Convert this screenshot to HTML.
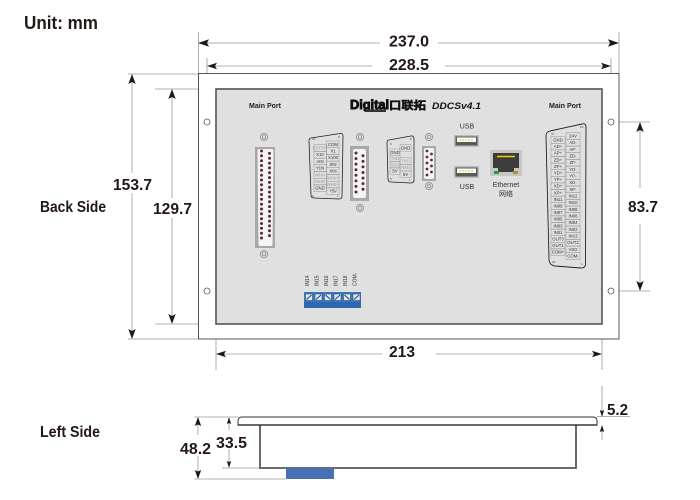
<!DOCTYPE html>
<html><head><meta charset="utf-8"><style>
html,body{margin:0;padding:0;background:#fff;}
svg{display:block;}
.d{font-family:"Liberation Sans",sans-serif;font-weight:bold;fill:#231815;}
.t{font-family:"Liberation Sans",sans-serif;font-size:4.3px;fill:#333;}
.g{fill:#999;}
</style></head><body>
<svg width="700" height="500" viewBox="0 0 700 500" xmlns="http://www.w3.org/2000/svg">
<rect width="700" height="500" fill="#fff"/>
<!-- titles -->
<text class="d" x="24" y="29" font-size="18" textLength="74" lengthAdjust="spacingAndGlyphs">Unit: mm</text>
<text class="d" x="40" y="212" font-size="16" textLength="66" lengthAdjust="spacingAndGlyphs">Back Side</text>
<text class="d" x="40" y="437" font-size="16" textLength="60" lengthAdjust="spacingAndGlyphs">Left Side</text>

<!-- extension lines -->
<g stroke="#9a9a9a" stroke-width="0.8" fill="none">
<line x1="198.5" y1="32" x2="198.5" y2="74"/>
<line x1="619" y1="32" x2="619" y2="74"/>
<line x1="207" y1="58" x2="207" y2="119"/>
<line x1="611" y1="58" x2="611" y2="119"/>
<line x1="128" y1="74" x2="199" y2="74"/>
<line x1="128" y1="339" x2="199" y2="339"/>
<line x1="155" y1="89" x2="216" y2="89"/>
<line x1="155" y1="324" x2="216" y2="324"/>
<line x1="614" y1="122" x2="650" y2="122"/>
<line x1="614" y1="291" x2="650" y2="291"/>
<line x1="216" y1="324" x2="216" y2="370"/>
<line x1="602" y1="324" x2="602" y2="370"/>
<line x1="194" y1="417" x2="238" y2="417"/>
<line x1="222" y1="468" x2="260" y2="468"/>
<line x1="194" y1="479" x2="286" y2="479"/>
<line x1="597" y1="416.5" x2="630" y2="416.5"/>
<!-- dimension lines -->
<line x1="200" y1="43" x2="380" y2="43"/><line x1="438" y1="43" x2="617" y2="43"/>
<line x1="209" y1="66" x2="372" y2="66"/><line x1="445" y1="66" x2="609" y2="66"/>
<line x1="132" y1="76" x2="132" y2="173"/><line x1="132" y1="193" x2="132" y2="337"/>
<line x1="172" y1="91" x2="172" y2="198"/><line x1="172" y1="218" x2="172" y2="322"/>
<line x1="640" y1="124" x2="640" y2="188"/><line x1="640" y1="224" x2="640" y2="289"/>
<line x1="218" y1="354" x2="382" y2="354"/><line x1="436" y1="354" x2="600" y2="354"/>
<line x1="198" y1="419" x2="198" y2="435"/><line x1="198" y1="456" x2="198" y2="477"/>
<line x1="229" y1="419" x2="229" y2="430"/><line x1="229" y1="449" x2="229" y2="466"/>
<line x1="602" y1="386" x2="602" y2="415"/><line x1="602" y1="427" x2="602" y2="440"/>
</g>
<!-- arrowheads -->
<g fill="#231815">
<polygon points="198,43 209,39.3 207,43 209,46.7"/>
<polygon points="619,43 608,39.3 610,43 608,46.7"/>
<polygon points="207,66 217,62.7 215,66 217,69.3"/>
<polygon points="611,66 601,62.7 603,66 601,69.3"/>
<polygon points="132,74 128.3,84 132,82 135.7,84"/>
<polygon points="132,339 128.3,329 132,331 135.7,329"/>
<polygon points="172,89 168.3,99 172,97 175.7,99"/>
<polygon points="172,324 168.3,314 172,316 175.7,314"/>
<polygon points="640,122 636.3,132 640,130 643.7,132"/>
<polygon points="640,291 636.3,281 640,283 643.7,281"/>
<polygon points="216,354 226,350.7 224,354 226,357.3"/>
<polygon points="602,354 592,350.7 594,354 592,357.3"/>
<polygon points="198,417 194.8,426 198,424.5 201.2,426"/>
<polygon points="198,479 194.8,470 198,471.5 201.2,470"/>
<polygon points="229,417 226.8,424 229,423 231.2,424"/>
<polygon points="229,468 226.8,461 229,462 231.2,461"/>
<polygon points="602,417 599.8,410 602,411 604.2,410"/>
<polygon points="602,425 599.8,432 602,431 604.2,432"/>
</g>
<!-- dimension texts -->
<text class="d" x="389" y="46.5" font-size="15.5" textLength="40" lengthAdjust="spacingAndGlyphs">237.0</text>
<text class="d" x="389" y="70" font-size="15.5" textLength="40" lengthAdjust="spacingAndGlyphs">228.5</text>
<text class="d" x="113" y="190" font-size="15.5" textLength="39" lengthAdjust="spacingAndGlyphs">153.7</text>
<text class="d" x="153" y="214" font-size="15.5" textLength="39" lengthAdjust="spacingAndGlyphs">129.7</text>
<text class="d" x="628" y="212" font-size="15.5" textLength="30" lengthAdjust="spacingAndGlyphs">83.7</text>
<text class="d" x="389" y="357" font-size="15.5" textLength="26" lengthAdjust="spacingAndGlyphs">213</text>
<text class="d" x="180" y="454" font-size="15.5" textLength="31" lengthAdjust="spacingAndGlyphs">48.2</text>
<text class="d" x="216" y="448" font-size="15.5" textLength="31" lengthAdjust="spacingAndGlyphs">33.5</text>
<text class="d" x="607" y="415" font-size="15.5" textLength="21" lengthAdjust="spacingAndGlyphs">5.2</text>

<!-- outer plate -->
<rect x="198.5" y="73.5" width="420.5" height="265.5" fill="#fff" stroke="#555" stroke-width="1"/>
<!-- panel -->
<rect x="216" y="89" width="386" height="235" fill="#e0e0e0" stroke="#555" stroke-width="1.6"/>
<!-- holes -->
<g fill="#fff" stroke="#555" stroke-width="0.8">
<circle cx="207" cy="122" r="3"/><circle cx="207" cy="291" r="3"/>
<circle cx="611" cy="122" r="3"/><circle cx="611" cy="291" r="3"/>
</g>

<!-- header texts -->
<text x="249" y="108" font-family="Liberation Sans,sans-serif" font-weight="bold" font-size="7" fill="#222" textLength="32" lengthAdjust="spacingAndGlyphs">Main Port</text>
<text x="549" y="108" font-family="Liberation Sans,sans-serif" font-weight="bold" font-size="7" fill="#222" textLength="32" lengthAdjust="spacingAndGlyphs">Main Port</text>
<text x="350" y="109" font-family="Liberation Sans,sans-serif" font-weight="bold" font-size="12.5" fill="#111" stroke="#111" stroke-width="0.9" textLength="39" lengthAdjust="spacingAndGlyphs">Digital</text>
<rect x="366" y="109.5" width="20" height="2.5" fill="#333"/>
<text x="389" y="109" font-family="Liberation Sans,'Noto Sans CJK SC',sans-serif" font-weight="bold" font-size="11" fill="#111" stroke="#111" stroke-width="0.5" textLength="37" lengthAdjust="spacingAndGlyphs">口联拓</text>
<text x="432" y="109" font-family="Liberation Sans,sans-serif" font-weight="bold" font-style="italic" font-size="9.5" fill="#111" textLength="49" lengthAdjust="spacingAndGlyphs">DDCSv4.1</text>

<!-- screws -->
<g fill="none" stroke="#8a8a8a" stroke-width="0.8">
<circle cx="264" cy="137" r="3.6"/><circle cx="264" cy="137" r="1.8"/>
<circle cx="264" cy="254" r="3.6"/><circle cx="264" cy="254" r="1.8"/>
<circle cx="360" cy="137" r="3.6"/><circle cx="360" cy="137" r="1.8"/>
<circle cx="360" cy="208" r="3.6"/><circle cx="360" cy="208" r="1.8"/>
<circle cx="429" cy="137" r="3.6"/><circle cx="429" cy="137" r="1.8"/>
<circle cx="429" cy="186" r="3.6"/><circle cx="429" cy="186" r="1.8"/>
</g>

<!-- DB37 left -->
<rect x="255" y="147" width="20" height="101" fill="#a8a8a8"/>
<path d="M259,149 H272 Q273.5,149 273.5,151 L272.5,244 Q272.5,246 271,246 H260 Q258.5,246 258.5,244 L257.5,151 Q257.5,149 259,149 Z" fill="#f4f4f4"/>
<g fill="#5e2a36">
<circle cx="261.5" cy="151" r="1.5"/><circle cx="261.5" cy="155.8" r="1.5"/><circle cx="261.5" cy="160.7" r="1.5"/><circle cx="261.5" cy="165.5" r="1.5"/><circle cx="261.5" cy="170.3" r="1.5"/><circle cx="261.5" cy="175.2" r="1.5"/><circle cx="261.5" cy="180" r="1.5"/><circle cx="261.5" cy="184.8" r="1.5"/><circle cx="261.5" cy="189.7" r="1.5"/><circle cx="261.5" cy="194.5" r="1.5"/><circle cx="261.5" cy="199.3" r="1.5"/><circle cx="261.5" cy="204.2" r="1.5"/><circle cx="261.5" cy="209" r="1.5"/><circle cx="261.5" cy="213.8" r="1.5"/><circle cx="261.5" cy="218.7" r="1.5"/><circle cx="261.5" cy="223.5" r="1.5"/><circle cx="261.5" cy="228.3" r="1.5"/><circle cx="261.5" cy="233.2" r="1.5"/><circle cx="261.5" cy="238" r="1.5"/>
<circle cx="269.5" cy="153.4" r="1.5"/><circle cx="269.5" cy="158.2" r="1.5"/><circle cx="269.5" cy="163.1" r="1.5"/><circle cx="269.5" cy="167.9" r="1.5"/><circle cx="269.5" cy="172.7" r="1.5"/><circle cx="269.5" cy="177.6" r="1.5"/><circle cx="269.5" cy="182.4" r="1.5"/><circle cx="269.5" cy="187.2" r="1.5"/><circle cx="269.5" cy="192.1" r="1.5"/><circle cx="269.5" cy="196.9" r="1.5"/><circle cx="269.5" cy="201.7" r="1.5"/><circle cx="269.5" cy="206.6" r="1.5"/><circle cx="269.5" cy="211.4" r="1.5"/><circle cx="269.5" cy="216.2" r="1.5"/><circle cx="269.5" cy="221.1" r="1.5"/><circle cx="269.5" cy="225.9" r="1.5"/><circle cx="269.5" cy="230.7" r="1.5"/><circle cx="269.5" cy="235.6" r="1.5"/>
</g>

<!-- DB15 pinout label -->
<path d="M311,138 L340,133.5 Q343,133 343,136 L342,196 Q342,199 339,199 L314,198 Q311,198 311,195 L309,141 Q309,138 311,138 Z" fill="none" stroke="#222" stroke-width="0.8"/>
<g fill="none" stroke="#888" stroke-width="0.4">
<rect x="314" y="144.7" width="12.5" height="6.7"/><rect x="314" y="151.4" width="12.5" height="6.7"/><rect x="314" y="158.1" width="12.5" height="6.7"/><rect x="314" y="164.8" width="12.5" height="6.7"/><rect x="314" y="171.5" width="12.5" height="6.7"/><rect x="314" y="178.2" width="12.5" height="6.7"/><rect x="314" y="184.9" width="12.5" height="6.7"/>
<rect x="326.5" y="141" width="12.5" height="6.7"/><rect x="326.5" y="147.7" width="12.5" height="6.7"/><rect x="326.5" y="154.4" width="12.5" height="6.7"/><rect x="326.5" y="161.1" width="12.5" height="6.7"/><rect x="326.5" y="167.8" width="12.5" height="6.7"/><rect x="326.5" y="174.5" width="12.5" height="6.7"/><rect x="326.5" y="181.2" width="12.5" height="6.7"/><rect x="326.5" y="187.9" width="12.5" height="6.7"/>
</g>
<g class="t" text-anchor="middle">
<text x="320" y="149.5" fill="#999">ESTOP</text><text x="320" y="156.2">X10</text><text x="320" y="162.9">AIN</text><text x="320" y="169.6">Y1N</text><text x="320" y="176.3" fill="#999">WHA</text><text x="320" y="183" fill="#999">WHB</text><text x="320" y="189.7">GND</text>
<text x="333" y="145.8">COM</text><text x="333" y="152.5">X1</text><text x="333" y="159.2">X100</text><text x="333" y="165.9">ZIN</text><text x="333" y="172.6">XIN</text><text x="333" y="179.3" fill="#999">WHA+</text><text x="333" y="186" fill="#999">WHB+</text><text x="333" y="192.7">+5V</text>
</g>
<g font-family="Liberation Sans,sans-serif" font-size="3" fill="#444">
<text x="312" y="140">15</text><text x="338" y="138">8</text><text x="312" y="197">9</text><text x="337" y="197">1</text>
</g>

<!-- DB15 connector -->
<rect x="350" y="146" width="19" height="55" fill="#a8a8a8"/>
<rect x="353" y="149" width="13" height="49" rx="2" fill="#f4f4f4"/>
<g fill="#5e2a36">
<circle cx="356" cy="153" r="1.5"/><circle cx="356" cy="158.6" r="1.5"/><circle cx="356" cy="164.1" r="1.5"/><circle cx="356" cy="169.7" r="1.5"/><circle cx="356" cy="175.3" r="1.5"/><circle cx="356" cy="180.9" r="1.5"/><circle cx="356" cy="186.4" r="1.5"/><circle cx="356" cy="192" r="1.5"/>
<circle cx="363" cy="155.8" r="1.5"/><circle cx="363" cy="161.4" r="1.5"/><circle cx="363" cy="166.9" r="1.5"/><circle cx="363" cy="172.5" r="1.5"/><circle cx="363" cy="178.1" r="1.5"/><circle cx="363" cy="183.6" r="1.5"/><circle cx="363" cy="189.2" r="1.5"/>
</g>

<!-- DB9 pinout label -->
<path d="M389,140 L411,136 Q414,135.5 414,139 L414,180 Q414,183 411,183 L391,182 Q388,182 388,179 L387,143 Q387,140 389,140 Z" fill="none" stroke="#222" stroke-width="0.8"/>
<g fill="none" stroke="#888" stroke-width="0.4">
<rect x="390" y="149" width="10" height="6.3"/><rect x="390" y="155.3" width="10" height="6.3"/><rect x="390" y="161.6" width="10" height="6.3"/><rect x="390" y="167.9" width="10" height="6.3"/>
<rect x="400" y="144.5" width="11" height="6.6"/><rect x="400" y="157.8" width="11" height="6.6"/><rect x="400" y="164.4" width="11" height="6.6"/><rect x="400" y="171" width="11" height="6.6"/>
</g>
<g class="t" text-anchor="middle">
<text x="395" y="153.8">GND</text><text x="395" y="160.1" fill="#999">TXD</text><text x="395" y="166.4" fill="#999">RXD</text><text x="395" y="172.7">5V</text>
<text x="405.5" y="149.3">GND</text><text x="405.5" y="162.6" fill="#999">TXD</text><text x="405.5" y="169.2" fill="#999">RXD</text><text x="405.5" y="175.8">5V</text>
</g>
<g font-family="Liberation Sans,sans-serif" font-size="3" fill="#444">
<text x="390" y="145">9</text><text x="410" y="140">5</text><text x="390" y="180">6</text><text x="409" y="181">1</text>
</g>

<!-- DB9 connector -->
<rect x="422" y="146" width="14" height="35" fill="#a8a8a8"/>
<rect x="424" y="148" width="10" height="31" rx="2" fill="#f4f4f4"/>
<g fill="#5e2a36">
<circle cx="427" cy="151" r="1.4"/><circle cx="427" cy="157" r="1.4"/><circle cx="427" cy="163" r="1.4"/><circle cx="427" cy="169" r="1.4"/><circle cx="427" cy="175" r="1.4"/>
<circle cx="431.5" cy="154" r="1.4"/><circle cx="431.5" cy="160" r="1.4"/><circle cx="431.5" cy="166" r="1.4"/><circle cx="431.5" cy="172" r="1.4"/>
</g>

<!-- USB -->
<g font-family="Liberation Sans,sans-serif" font-size="7" fill="#333" text-anchor="middle">
<text x="467" y="128.5">USB</text><text x="467" y="189">USB</text>
<text x="506" y="187">Ethernet</text>
<text x="506" y="196" font-family="Liberation Sans,'Noto Sans CJK SC',sans-serif">网络</text>
</g>
<rect x="454" y="135" width="25" height="12" fill="#bdbdbd"/>
<rect x="455.5" y="136.5" width="22" height="9" fill="#5a5a5a"/>
<rect x="457" y="137.5" width="19" height="4.5" fill="#fff"/>
<line x1="459" y1="140" x2="474" y2="140" stroke="#e6c200" stroke-width="1" stroke-dasharray="2,1"/>
<rect x="454" y="166" width="25" height="12" fill="#bdbdbd"/>
<rect x="455.5" y="167.5" width="22" height="9" fill="#5a5a5a"/>
<rect x="457" y="168.5" width="19" height="4.5" fill="#fff"/>
<line x1="459" y1="171" x2="474" y2="171" stroke="#e6c200" stroke-width="1" stroke-dasharray="2,1"/>

<!-- Ethernet -->
<rect x="490" y="150" width="32" height="26" rx="1" fill="#c6c6c6"/>
<path d="M493,153 H519 V168 H514 V172 H498 V168 H493 Z" fill="#3c3c3c"/>
<line x1="497" y1="156.5" x2="515" y2="156.5" stroke="#f0d000" stroke-width="1.4"/>
<rect x="494" y="171" width="5" height="3" fill="#2a9a3a"/>
<rect x="513" y="171" width="5" height="3" fill="#a89a20"/>

<!-- DB37 right pinout label -->
<path d="M550,131 L582,124 Q586,123 586,127 L585.5,264 Q585.5,268 581,268 L555,266 Q549,265 549,259 L546,136 Q546,132 550,131 Z" fill="none" stroke="#222" stroke-width="0.9"/>
<g fill="none" stroke="#888" stroke-width="0.4">
<rect x="551" y="136.7" width="14" height="6.6"/><rect x="551" y="143.3" width="14" height="6.6"/><rect x="551" y="149.9" width="14" height="6.6"/><rect x="551" y="156.5" width="14" height="6.6"/><rect x="551" y="163.1" width="14" height="6.6"/><rect x="551" y="169.7" width="14" height="6.6"/><rect x="551" y="176.3" width="14" height="6.6"/><rect x="551" y="182.9" width="14" height="6.6"/><rect x="551" y="189.5" width="14" height="6.6"/><rect x="551" y="196.1" width="14" height="6.6"/><rect x="551" y="202.7" width="14" height="6.6"/><rect x="551" y="209.3" width="14" height="6.6"/><rect x="551" y="215.9" width="14" height="6.6"/><rect x="551" y="222.5" width="14" height="6.6"/><rect x="551" y="229.1" width="14" height="6.6"/><rect x="551" y="235.7" width="14" height="6.6"/><rect x="551" y="242.3" width="14" height="6.6"/><rect x="551" y="248.9" width="14" height="6.6"/>
<rect x="566" y="132.7" width="14" height="6.67"/><rect x="566" y="139.4" width="14" height="6.67"/><rect x="566" y="146" width="14" height="6.67"/><rect x="566" y="152.7" width="14" height="6.67"/><rect x="566" y="159.4" width="14" height="6.67"/><rect x="566" y="166" width="14" height="6.67"/><rect x="566" y="172.7" width="14" height="6.67"/><rect x="566" y="179.4" width="14" height="6.67"/><rect x="566" y="186" width="14" height="6.67"/><rect x="566" y="192.7" width="14" height="6.67"/><rect x="566" y="199.4" width="14" height="6.67"/><rect x="566" y="206" width="14" height="6.67"/><rect x="566" y="212.7" width="14" height="6.67"/><rect x="566" y="219.4" width="14" height="6.67"/><rect x="566" y="226" width="14" height="6.67"/><rect x="566" y="232.7" width="14" height="6.67"/><rect x="566" y="239.4" width="14" height="6.67"/><rect x="566" y="246" width="14" height="6.67"/><rect x="566" y="252.7" width="14" height="6.67"/>
</g>
<g class="t" text-anchor="middle">
<text x="558" y="141.5">GND</text><text x="558" y="148.1">AD+</text><text x="558" y="154.7">AP+</text><text x="558" y="161.3">ZD+</text><text x="558" y="167.9">ZP+</text><text x="558" y="174.5">YD+</text><text x="558" y="181.1">YP+</text><text x="558" y="187.7">XD+</text><text x="558" y="194.3">XP+</text><text x="558" y="200.9">IN11</text><text x="558" y="207.5">IN09</text><text x="558" y="214.1">IN07</text><text x="558" y="220.7">IN05</text><text x="558" y="227.3">IN03</text><text x="558" y="233.9">IN01</text><text x="558" y="240.5">OUT3</text><text x="558" y="247.1">OUT1</text><text x="558" y="253.7">COM+</text>
<text x="573" y="137.5">24V</text><text x="573" y="144.2">AD-</text><text x="573" y="150.8">AP-</text><text x="573" y="157.5">ZD-</text><text x="573" y="164.2">ZP-</text><text x="573" y="170.8">YD-</text><text x="573" y="177.5">YP-</text><text x="573" y="184.2">XD-</text><text x="573" y="190.8">XP-</text><text x="573" y="197.5">IN12</text><text x="573" y="204.2">IN10</text><text x="573" y="210.8">IN08</text><text x="573" y="217.5">IN06</text><text x="573" y="224.2">IN04</text><text x="573" y="230.8">IN02</text><text x="573" y="237.5">IN13</text><text x="573" y="244.2">OUT2</text><text x="573" y="250.8">VSO</text><text x="573" y="257.5">COM-</text>
</g>
<g font-family="Liberation Sans,sans-serif" font-size="3" fill="#444">
<text x="551" y="135">37</text><text x="580" y="128">19</text><text x="552" y="263">20</text><text x="581" y="265">1</text>
</g>

<!-- terminal block -->
<g font-family="Liberation Sans,sans-serif" font-size="5" fill="#333">
<text transform="translate(309,286) rotate(-90)">IN14</text>
<text transform="translate(318.5,286) rotate(-90)">IN15</text>
<text transform="translate(328,286) rotate(-90)">IN16</text>
<text transform="translate(337.5,286) rotate(-90)">IN17</text>
<text transform="translate(347,286) rotate(-90)">IN18</text>
<text transform="translate(356.5,286) rotate(-90)">COM-</text>
</g>
<rect x="304" y="292" width="57" height="16" fill="#3a78c0"/>
<rect x="304" y="302" width="57" height="6" fill="#2f67ad"/>
<g fill="#dfe7f0" stroke="#1d3b66" stroke-width="0.5">
<rect x="305.5" y="294" width="7" height="6.5"/><rect x="315" y="294" width="7" height="6.5"/><rect x="324.5" y="294" width="7" height="6.5"/><rect x="334" y="294" width="7" height="6.5"/><rect x="343.5" y="294" width="7" height="6.5"/><rect x="353" y="294" width="7" height="6.5"/>
</g>
<g stroke="#1d3b66" stroke-width="0.9">
<line x1="306.5" y1="299.5" x2="311.5" y2="295"/><line x1="316" y1="299.5" x2="321" y2="295"/><line x1="325.5" y1="295" x2="330.5" y2="299.5"/><line x1="335" y1="299.5" x2="340" y2="295"/><line x1="344.5" y1="295" x2="349.5" y2="299.5"/><line x1="354" y1="299.5" x2="359" y2="295"/>
</g>

<!-- Left side view -->
<rect x="260" y="424" width="316" height="44" fill="#fff" stroke="#6a6a6a" stroke-width="2"/>
<path d="M242,417 H593 Q597,417 597,421 V425 H238 V421 Q238,417 242,417 Z" fill="#fff" stroke="#333" stroke-width="1"/>
<line x1="238" y1="425" x2="597" y2="425" stroke="#111" stroke-width="1.3"/>
<rect x="286" y="468" width="48" height="11" fill="#4a6fb5"/>
</svg>
</body></html>
